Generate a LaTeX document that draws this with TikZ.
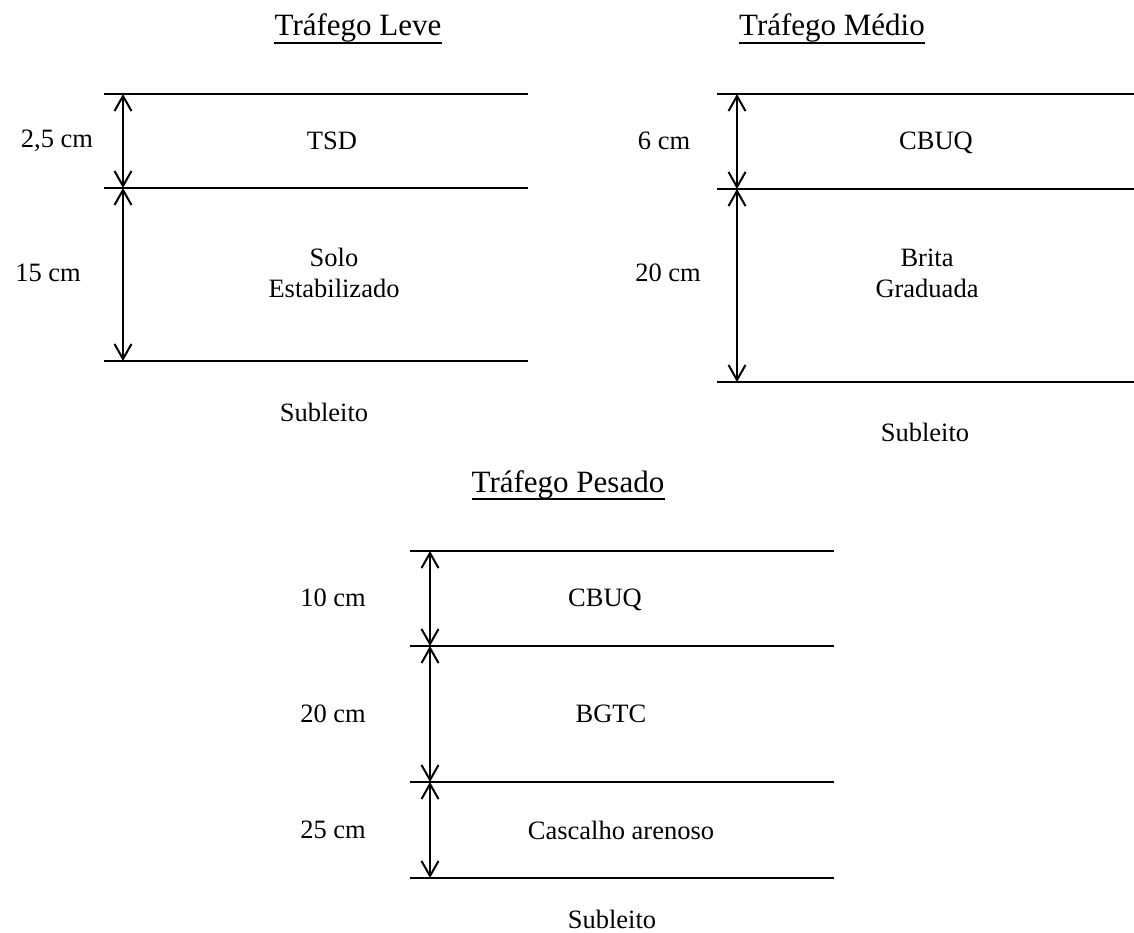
\documentclass[tikz,border=0pt]{standalone}
\usepackage{fontspec}
\setmainfont{Liberation Serif}
\usetikzlibrary{arrows.meta}
\begin{document}
\begin{tikzpicture}[x=1pt,y=-1pt,
  layer/.style={line width=2.2pt},
  barb/.tip={Straight Barb[length=15pt,width=17pt,line width=2pt]},
  dim/.style={line width=2pt,barb-barb},
  lbl/.style={font=\fontsize{26.5}{31}\selectfont, align=center, inner sep=0pt},
  ttl/.style={font=\fontsize{31}{36}\selectfont, inner sep=0pt, anchor=base},
  uline/.style={line width=2pt}]
\useasboundingbox (0,0) rectangle (1134,933);

% ---- Light traffic ----
\node[ttl] (t1) at (358,36) {Tráfego Leve};
\draw[uline] ([yshift=-7pt]t1.base west) -- ([yshift=-7pt]t1.base east);
\coordinate (a0) at (123,94);  \coordinate (a1) at (123,188); \coordinate (a2) at (123,361);
\draw[layer] (104,94) -- (528,94);
\draw[layer] (104,188) -- (528,188);
\draw[layer] (104,361) -- (528,361);
\draw[dim] (a0) -- (a1);
\draw[dim] (a1) -- (a2);
\node[lbl] (d11) at (57,141) {2,5 cm};
\node[lbl] (d12) at (48,273) {15 cm};
\node[lbl] (m11) at (332,141) {TSD};
\node[lbl] (m12) at (334,273) {Solo\\Estabilizado};
\node[lbl] (s1) at (324,412) {Subleito};

% ---- Medium traffic ----
\node[ttl] (t2) at (832,36) {Tráfego Médio};
\draw[uline] ([yshift=-7pt]t2.base west) -- ([yshift=-7pt]t2.base east);
\coordinate (b0) at (737,94);  \coordinate (b1) at (737,189); \coordinate (b2) at (737,382);
\draw[layer] (717,94) -- (1134,94);
\draw[layer] (717,189) -- (1134,189);
\draw[layer] (717,382) -- (1134,382);
\draw[dim] (b0) -- (b1);
\draw[dim] (b1) -- (b2);
\node[lbl] (d21) at (664,141) {6 cm};
\node[lbl] (d22) at (668,273) {20 cm};
\node[lbl] (m21) at (936,143) {CBUQ};
\node[lbl] (m22) at (927,273) {Brita\\Graduada};
\node[lbl] (s2) at (925,432) {Subleito};

% ---- Heavy traffic ----
\node[ttl] (t3) at (568,492) {Tráfego Pesado};
\draw[uline] ([yshift=-7pt]t3.base west) -- ([yshift=-7pt]t3.base east);
\coordinate (c0) at (430,551); \coordinate (c1) at (430,646);
\coordinate (c2) at (430,782); \coordinate (c3) at (430,878);
\draw[layer] (410,551) -- (834,551);
\draw[layer] (410,646) -- (834,646);
\draw[layer] (410,782) -- (834,782);
\draw[layer] (410,878) -- (834,878);
\draw[dim] (c0) -- (c1);
\draw[dim] (c1) -- (c2);
\draw[dim] (c2) -- (c3);
\node[lbl] (d31) at (333,598) {10 cm};
\node[lbl] (d32) at (333,714) {20 cm};
\node[lbl] (d33) at (333,830) {25 cm};
\node[lbl] (m31) at (605,600) {CBUQ};
\node[lbl] (m32) at (611,714) {BGTC};
\node[lbl] (m33) at (621,830) {Cascalho arenoso};
\node[lbl] (s3) at (612,919) {Subleito};
\end{tikzpicture}
\end{document}
